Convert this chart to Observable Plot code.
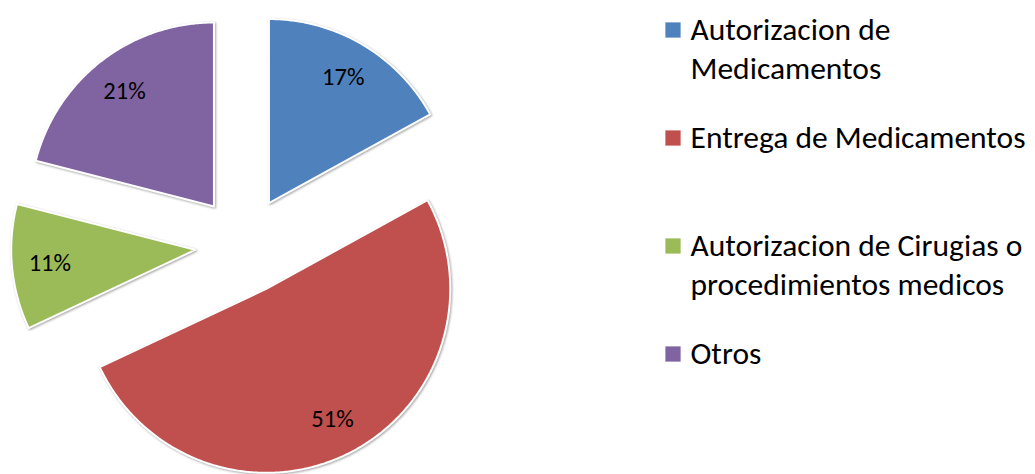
<!DOCTYPE html>
<html><head><meta charset="utf-8">
<script src="https://cdn.jsdelivr.net/npm/d3@7"></script>
<script src="https://cdn.jsdelivr.net/npm/@observablehq/plot@0.6"></script>
<style>
body{margin:0;background:#fff}
#chart svg{display:block;background:#fff}
#chart g[aria-label="line"] path{filter:drop-shadow(1px 1.5px 1.2px rgba(0,0,0,0.35));}
</style>
</head><body><div id="chart"></div>
<script>
// ---- data ----
const categories = ["Autorizacion de Medicamentos", "Entrega de Medicamentos", "Autorizacion de Cirugias o procedimientos medicos", "Otros"];
const values = [17, 51, 11, 21];
const legendLabels = ["Autorizacion de\nMedicamentos", "Entrega de Medicamentos", "Autorizacion de Cirugias o\nprocedimientos medicos", "Otros"];
const colors = ["#4F81BD", "#C0504D", "#9BBB59", "#8064A2"];

// ---- layout ----
const W = 1035, H = 474;
const CX = 243.5, CY = 244.7, R = 184, EXPLODE = 49;
const LABEL_K = 146;
const FONT = "Carlito, Calibri, 'Open Sans', sans-serif";
const LEG_X = 672.5, LEG_TX = 690, LEG_Y0 = 29.5, LEG_STEP = 108, LEG_FS = 31.5, LEG_LH = 39;

const total = d3.sum(values);
const arcs = d3.pie().sort(null).value(d => d)(values);

const slicePts = [];
const labels = [];
arcs.forEach((a, i) => {
  const m = (a.startAngle + a.endAngle) / 2;
  const ax = CX + EXPLODE * Math.sin(m), ay = CY - EXPLODE * Math.cos(m);
  slicePts.push({cat: categories[i], x: ax, y: ay});
  const n = Math.max(2, Math.ceil((a.endAngle - a.startAngle) / (Math.PI / 360)));
  for (let k = 0; k <= n; k++) {
    const t = a.startAngle + (a.endAngle - a.startAngle) * k / n;
    slicePts.push({cat: categories[i], x: ax + R * Math.sin(t), y: ay - R * Math.cos(t)});
  }
  labels.push({text: d3.format(".0%")(values[i] / total), x: ax + LABEL_K * Math.sin(m), y: ay - LABEL_K * Math.cos(m)});
});

const legend = categories.map((c, i) => ({cat: c, y: LEG_Y0 + i * LEG_STEP}));
const legendLines = legendLabels.flatMap((lab, i) =>
  lab.split("\n").map((line, j) => ({line, y: LEG_Y0 + i * LEG_STEP + j * LEG_LH})));

const chart = Plot.plot({
  width: W, height: H, margin: 0,
  style: {fontFamily: FONT, background: "#fff"},
  x: {domain: [0, W], range: [0, W], axis: null},
  y: {domain: [0, H], range: [0, H], axis: null},
  color: {type: "ordinal", domain: categories, range: colors},
  marks: [
    Plot.line(slicePts, {x: "x", y: "y", z: "cat", fill: "cat", stroke: "white", strokeWidth: 2, strokeLinejoin: "round", curve: "linear-closed"}),
    Plot.text(labels, {x: "x", y: "y", text: "text", fontSize: 24.5, fill: "black", fontFamily: FONT}),
    Plot.dot(legend, {x: LEG_X, y: "y", symbol: "square", r: 8.6, fill: "cat", stroke: null}),
    Plot.text(legendLines, {x: LEG_TX, y: "y", text: "line", textAnchor: "start", fontSize: LEG_FS, fill: "black", fontFamily: FONT})
  ]
});
document.getElementById("chart").appendChild(chart);
</script>
</body></html>
